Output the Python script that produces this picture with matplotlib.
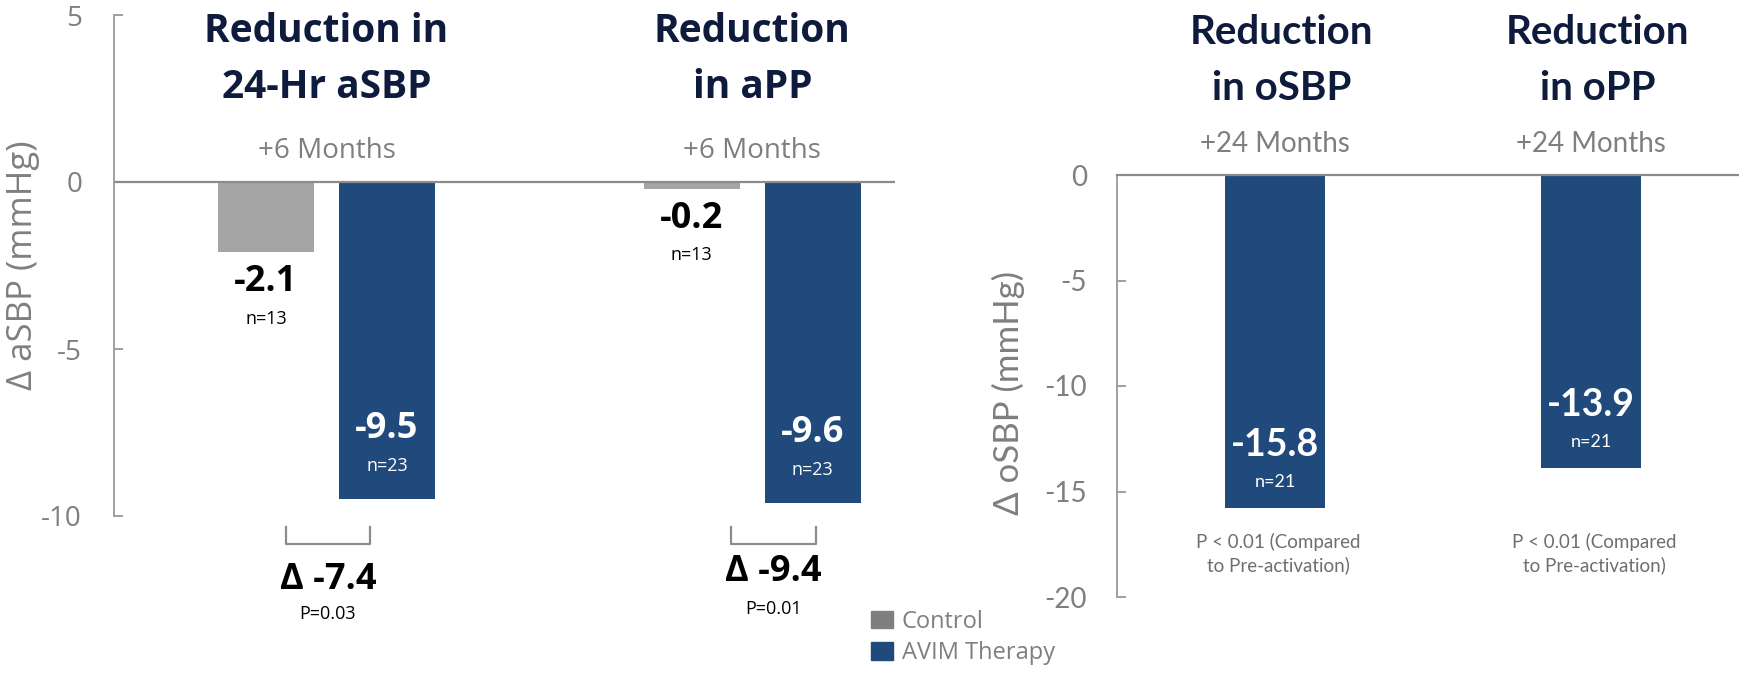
import matplotlib.pyplot as plt
import numpy as np
from matplotlib import transforms
from matplotlib.patches import Patch

# 6-month ambulatory results: control vs AVIM therapy
groups_6m = ['Reduction in\n24-Hr aSBP', 'Reduction\nin aPP']
control_6m = [-2.1, -0.2]
avim_6m = [-9.5, -9.6]
control_n = ['n=13', 'n=13']
avim_n = ['n=23', 'n=23']
delta_6m = [-7.4, -9.4]
p_6m = ['P=0.03', 'P=0.01']
period_6m = '+6 Months'

# 24-month office results: AVIM therapy only
groups_24m = ['Reduction\nin oSBP', 'Reduction\nin oPP']
avim_24m = [-15.8, -13.9]
avim_24m_n = ['n=21', 'n=21']
p_24m = 'P < 0.01 (Compared\nto Pre-activation)'
period_24m = '+24 Months'

GRAY = '#A5A5A5'
BLUE = '#204A7B'
NAVY = '#0E1B3D'
TICK = '#7F7F7F'
LINE = '#8C8C8C'
LEFT_FONT = ['Open Sans', 'DejaVu Sans']
RIGHT_FONT = ['Lato', 'DejaVu Sans']

plt.rcParams['font.family'] = LEFT_FONT
plt.rcParams['axes.unicode_minus'] = False

W, H = 1739, 674
fig = plt.figure(figsize=(W / 100, H / 100), dpi=100)


def fy(px):
    # pixel row -> figure fraction
    return 1 - px / H


ax1 = fig.add_axes([114 / W, fy(516), (895 - 114) / W, (516 - 15) / H])
ax2 = fig.add_axes([1117 / W, fy(597), (1739 - 1117) / W, (597 - 175) / H])

# ---- left panel ----
x = np.arange(len(groups_6m))
off, bw = 0.142, 0.2255
ax1.bar(x - off, control_6m, bw, color=GRAY)
ax1.bar(x + off, avim_6m, bw, color=BLUE)
ax1.axhline(0, color=LINE, lw=1.6)
ax1.set_xlim(-0.499, 1.335)
ax1.set_ylim(-10, 5)
ax1.set_xticks([])
ax1.set_yticks([5, 0, -5, -10])
for s in ['top', 'right', 'bottom']:
    ax1.spines[s].set_visible(False)
ax1.spines['left'].set_color('#A0A0A0')
ax1.spines['left'].set_linewidth(1.4)
ax1.tick_params(axis='y', direction='in', length=6.5, width=1.4, color='#A0A0A0',
                labelcolor=TICK, labelsize=20, pad=23)
ax1.set_ylabel('Δ aSBP (mmHg)', fontsize=25, color=TICK)
ax1.yaxis.set_label_coords(-0.0947, 0.5)

tr1 = transforms.blended_transform_factory(ax1.transData, fig.transFigure)
for i, title in enumerate(groups_6m):
    for line, py in zip(title.split('\n'), [32, 88]):
        ax1.text(i, fy(py), line, transform=tr1, ha='center', va='center',
                 fontsize=28, fontweight='bold', color=NAVY)
    ax1.text(i, fy(151), period_6m, transform=tr1, ha='center', va='center',
             fontsize=20, color=TICK)

for i, (v, n) in enumerate(zip(control_6m, control_n)):
    ax1.annotate(f'{v:.1f}', (i - off, v), xytext=(0, -21.6), textcoords='offset points',
                 ha='center', va='center', fontsize=26, fontweight='bold', color='black')
    ax1.annotate(n, (i - off, v), xytext=(0, -48), textcoords='offset points',
                 ha='center', va='center', fontsize=13, color='black')
for i, (v, n) in enumerate(zip(avim_6m, avim_n)):
    ax1.annotate(f'{v:.1f}', (i + off, v), xytext=(0, 50.4), textcoords='offset points',
                 ha='center', va='center', fontsize=26, fontweight='bold', color='white')
    ax1.annotate(n, (i + off, v), xytext=(0, 23.8), textcoords='offset points',
                 ha='center', va='center', fontsize=13, color='white')

# difference brackets under each pair
bracket_span = [(-0.095, 0.102), (-0.05, 0.15)]
delta_y = [580, 572]
p_y = [614, 609]
for i, (d, p) in enumerate(zip(delta_6m, p_6m)):
    a, b = bracket_span[i]
    ax1.plot([i + a, i + a, i + b, i + b], [fy(527), fy(544), fy(544), fy(527)],
             transform=tr1, color=LINE, lw=1.6, clip_on=False)
    cx = i + (a + b) / 2
    ax1.text(cx, fy(delta_y[i]), f'Δ {d:.1f}', transform=tr1, ha='center', va='center',
             fontsize=26, fontweight='bold', color='black')
    ax1.text(cx, fy(p_y[i]), p, transform=tr1, ha='center', va='center',
             fontsize=13, color='black')

fig.legend(handles=[Patch(color='#7F7F7F', label='Control'),
                    Patch(color=BLUE, label='AVIM Therapy')],
           loc='upper left', bbox_to_anchor=(871 / W, fy(610)), frameon=False,
           fontsize=17, handlelength=0.93, handleheight=0.76, handletextpad=0.38,
           labelspacing=0.3, borderpad=0, borderaxespad=0, labelcolor=TICK)

# ---- right panel ----
x2 = np.arange(len(groups_24m))
ax2.bar(x2, avim_24m, 0.316, color=BLUE)
ax2.set_xlim(-0.5, 1.468)
ax2.set_ylim(-20, 0)
ax2.set_xticks([])
ax2.set_yticks([0, -5, -10, -15, -20])
for s in ['right', 'bottom']:
    ax2.spines[s].set_visible(False)
ax2.spines['left'].set_color('#A0A0A0')
ax2.spines['left'].set_linewidth(1.4)
ax2.spines['top'].set_color(LINE)
ax2.spines['top'].set_linewidth(1.6)
ax2.tick_params(axis='y', direction='in', length=6.5, width=1.4, color='#A0A0A0',
                labelcolor=TICK, labelsize=20, pad=21.6)
for lbl in ax2.get_yticklabels():
    lbl.set_family(RIGHT_FONT)
ax2.set_ylabel('Δ oSBP (mmHg)', fontsize=25, color=TICK, family=RIGHT_FONT)
ax2.yaxis.set_label_coords(-0.148, 0.483)

tr2 = transforms.blended_transform_factory(ax2.transData, fig.transFigure)
for i, title in enumerate(groups_24m):
    for line, py in zip(title.split('\n'), [32, 88]):
        ax2.text(i + 0.02, fy(py), line, transform=tr2, ha='center', va='center',
                 fontsize=29, fontweight='bold', color=NAVY, family=RIGHT_FONT)
    ax2.text(i, fy(144), period_24m, transform=tr2, ha='center', va='center',
             fontsize=20, color=TICK, family=RIGHT_FONT)
    ax2.text(i + 0.01, fy(554), p_24m, transform=tr2, ha='center', va='center',
             fontsize=13.5, color='#6E6E6E', family=RIGHT_FONT, linespacing=1.35)

for i, (v, n) in enumerate(zip(avim_24m, avim_24m_n)):
    ax2.annotate(f'{v:.1f}', (i, v), xytext=(0, 45.4), textcoords='offset points',
                 ha='center', va='center', fontsize=27, fontweight='bold',
                 color='white', family=RIGHT_FONT)
    ax2.annotate(n, (i, v), xytext=(0, 18.7), textcoords='offset points',
                 ha='center', va='center', fontsize=13, color='white',
                 family=RIGHT_FONT)

fig.savefig('out.png', dpi=100)
